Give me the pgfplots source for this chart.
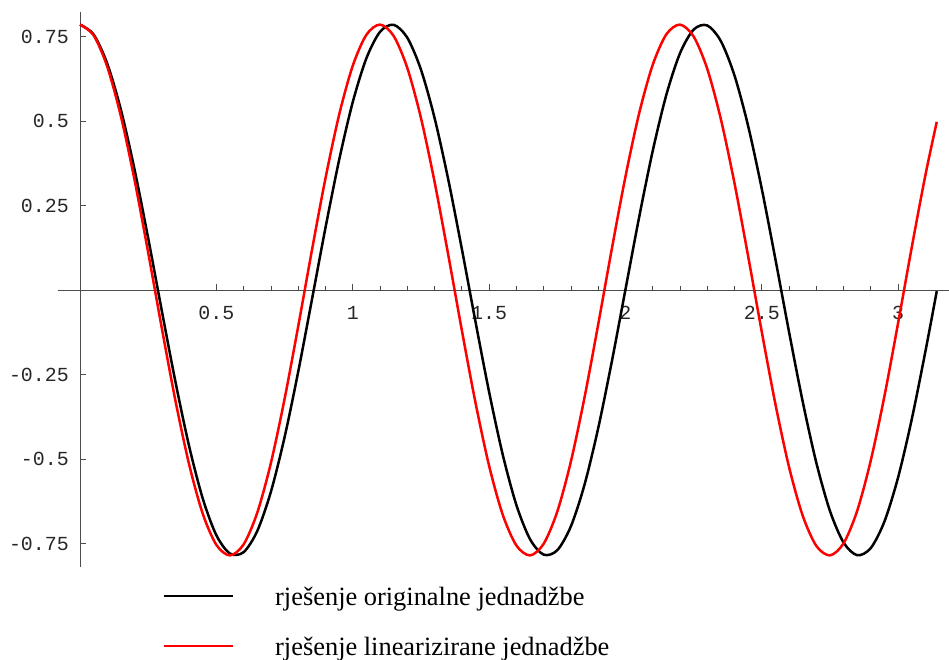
\documentclass[border=0pt]{standalone}
\usepackage{fontspec}
\setmainfont{Liberation Serif}
\newfontfamily\monofont{Liberation Mono}
\usepackage{pgfplots}
\pgfplotsset{compat=1.18}

% Pendulum released from pi/4 (L = 0.3 m): full equation vs. small-angle form
\pgfplotstableread{
t       theta
0       0.78540
0.05    0.75590
0.10    0.66963
0.15    0.53306
0.20    0.35645
0.25    0.15307
0.30   -0.06181
0.35   -0.27205
0.40   -0.46185
0.45   -0.61696
0.50   -0.72573
0.55   -0.78000
0.60   -0.77567
0.65   -0.71308
0.70   -0.59694
0.75   -0.43595
0.80   -0.24222
0.85   -0.03030
0.90    0.18390
0.95    0.38428
1.00    0.55581
1.05    0.68558
1.10    0.76386
1.15    0.78476
1.20    0.74672
1.25    0.65260
1.30    0.50945
1.35    0.32804
1.40    0.12199
1.45   -0.09322
1.50   -0.30143
1.55   -0.48700
1.60   -0.63599
1.65   -0.73721
1.70   -0.78306
1.75   -0.77009
1.80   -0.69928
1.85   -0.57595
1.90   -0.40935
1.95   -0.21200
2.00    0.00126
2.05    0.21443
2.10    0.41150
2.15    0.57766
2.20    0.70043
2.25    0.77058
2.30    0.78286
2.35    0.73634
2.40    0.63451
2.45    0.48502
2.50    0.29910
2.55    0.09072
2.60   -0.12448
2.65   -0.33033
2.70   -0.51136
2.75   -0.65400
2.80   -0.74750
2.85   -0.78486
2.90   -0.76327
2.95   -0.68435
3.00   -0.55402
3.05   -0.38208
3.10   -0.18145
3.1416 -0.00337
}\original

\pgfplotstableread{
t       theta
0       0.78540
0.05    0.75351
0.10    0.66044
0.15    0.51375
0.20    0.32535
0.25    0.11053
0.30   -0.11327
0.35   -0.32786
0.40   -0.51585
0.45   -0.66194
0.50   -0.75429
0.55   -0.78539
0.60   -0.75272
0.65   -0.65894
0.70   -0.51165
0.75   -0.32283
0.80   -0.10779
0.85    0.11601
0.90    0.33038
0.95    0.51793
1.00    0.66343
1.05    0.75506
1.10    0.78538
1.15    0.75193
1.20    0.65743
1.25    0.50955
1.30    0.32030
1.35    0.10504
1.40   -0.11874
1.45   -0.33289
1.50   -0.52001
1.55   -0.66490
1.60   -0.75581
1.65   -0.78535
1.70   -0.75113
1.75   -0.65591
1.80   -0.50744
1.85   -0.31777
1.90   -0.10230
1.95    0.12148
2.00    0.33540
2.05    0.52208
2.10    0.66637
2.15    0.75656
2.20    0.78532
2.25    0.75031
2.30    0.65439
2.35    0.50533
2.40    0.31524
2.45    0.09955
2.50   -0.12422
2.55   -0.33790
2.60   -0.52414
2.65   -0.66784
2.70   -0.75730
2.75   -0.78528
2.80   -0.74949
2.85   -0.65285
2.90   -0.50320
2.95   -0.31270
3.00   -0.09680
3.05    0.12695
3.10    0.34040
3.1416  0.49756
}\linearised

\begin{document}
\begin{tikzpicture}
\useasboundingbox (-58.2bp,-92.9bp) rectangle (890.8bp,567.1bp);
\begin{axis}[
  scale only axis,
  width=890.4bp, height=555.2bp,
  xmin=-0.08, xmax=3.185,
  ymin=-0.82, ymax=0.823,
  enlargelimits=false,
  axis lines=middle,
  axis line style={-, black!70, line width=0.8bp},
  tick align=inside,
  major tick length=6bp,
  minor tick length=4bp,
  tick style={black!70, line width=0.8bp},
  xtick={0.5,1,1.5,2,2.5,3},
  xticklabels={0.5,1,1.5,2,2.5,3},
  ytick={-0.75,-0.5,-0.25,0.25,0.5,0.75},
  yticklabels={-0.75,-0.5,-0.25,0.25,0.5,0.75},
  minor x tick num=4,
  minor y tick num=4,
  extra y ticks={0},
  extra y tick labels={},
  extra y tick style={tick style={draw=none}},
  xticklabel style={anchor=north, inner sep=0pt, yshift=-16bp,
    font=\monofont\fontsize{20}{20}\selectfont, text=black!85},
  yticklabel style={anchor=east, inner sep=0pt, xshift=-11bp,
    font=\monofont\fontsize{20}{20}\selectfont, text=black!85},
  legend style={at={(axis description cs:0.1177,-0.036)}, anchor=north west,
    draw=none, fill=none, inner sep=0pt, row sep=29.5bp,
    font=\fontsize{26.5}{26.5}\selectfont,
    nodes={inner sep=0pt},
    /tikz/every odd column/.append style={column sep=41bp}},
  legend cell align=left,
  legend image code/.code={\draw[#1, line width=2bp] (0bp,1bp) -- (69bp,1bp);},
]
\addplot[black, line width=2.5bp, smooth] table[x=t, y=theta] {\original};
\addlegendentry{rješenje originalne jednadžbe}
\addplot[red, line width=2.5bp, smooth] table[x=t, y=theta] {\linearised};
\addlegendentry{rješenje linearizirane jednadžbe}
\end{axis}
\end{tikzpicture}
\end{document}
